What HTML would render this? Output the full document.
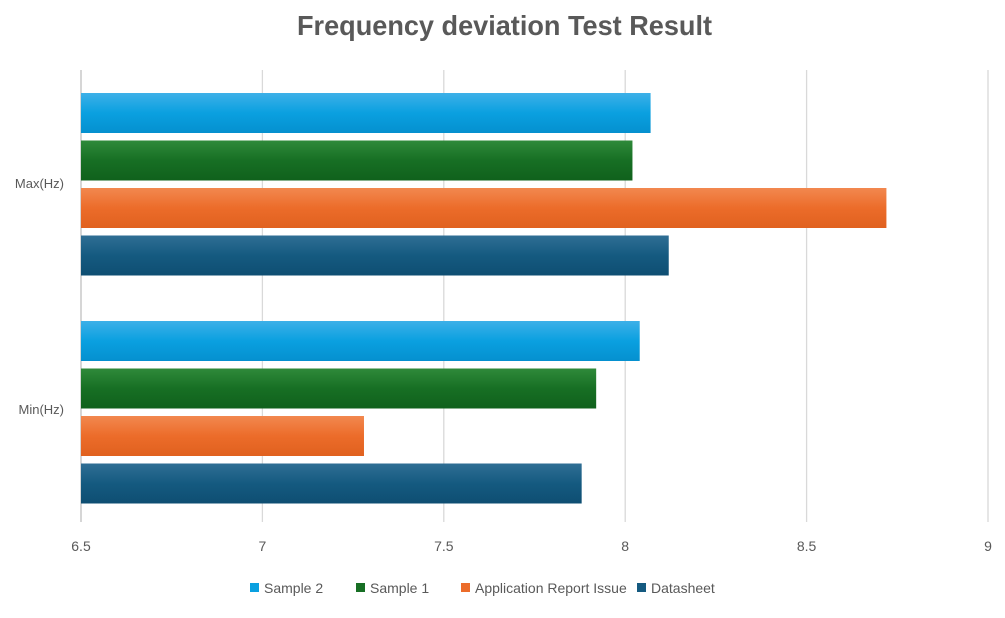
<!DOCTYPE html>
<html><head><meta charset="utf-8"><style>
body{margin:0;background:#fff;font-family:"Liberation Sans",sans-serif}
svg text{font-family:"Liberation Sans",sans-serif}
</style></head><body>
<svg id="chart" width="1005" height="613">
<defs>
<linearGradient id="g0" x1="0" y1="0" x2="0" y2="1"><stop offset="0" stop-color="#3db0e8"/><stop offset="0.5" stop-color="#0aa0e0"/><stop offset="1" stop-color="#0590cf"/></linearGradient>
<linearGradient id="g1" x1="0" y1="0" x2="0" y2="1"><stop offset="0" stop-color="#2f8a3a"/><stop offset="0.5" stop-color="#176f24"/><stop offset="1" stop-color="#10611c"/></linearGradient>
<linearGradient id="g2" x1="0" y1="0" x2="0" y2="1"><stop offset="0" stop-color="#f2884f"/><stop offset="0.5" stop-color="#ec6c2a"/><stop offset="1" stop-color="#e0611f"/></linearGradient>
<linearGradient id="g3" x1="0" y1="0" x2="0" y2="1"><stop offset="0" stop-color="#2f6e94"/><stop offset="0.5" stop-color="#155a80"/><stop offset="1" stop-color="#0e4e72"/></linearGradient>
</defs>
<text x="297" y="35" textLength="415" lengthAdjust="spacingAndGlyphs" font-size="28" font-weight="bold" fill="#595959">Frequency deviation Test Result</text>
<g id="grid"></g><g id="bars"></g><g id="labels"></g><g id="legend"></g>
</svg>
<script>
const categories=["Max(Hz)","Min(Hz)"];
const seriesNames=["Sample 2","Sample 1","Application Report Issue","Datasheet"];
const sample2=[8.07,8.04];
const sample1=[8.02,7.92];
const appReport=[8.72,7.28];
const datasheet=[8.12,7.88];
const ticks=[6.5,7,7.5,8,8.5,9];
const tickLabels=["6.5","7","7.5","8","8.5","9"];
const series=[sample2,sample1,appReport,datasheet];
const NS="http://www.w3.org/2000/svg";
const x0=81,x1=988,yTop=70,yBot=522;
const xs=v=>x0+(v-6.5)/(9-6.5)*(x1-x0);
const bandH=(yBot-yTop)/categories.length;
function mk(t,a,p){const e=document.createElementNS(NS,t);for(const k in a)e.setAttribute(k,a[k]);p.appendChild(e);return e;}
const grid=document.getElementById('grid'),bars=document.getElementById('bars'),labels=document.getElementById('labels'),legend=document.getElementById('legend');
ticks.forEach((t,i)=>{
 const l=mk('line',{x1:xs(t),x2:xs(t),y1:yTop,y2:yBot,stroke:i==0?'#bfbfbf':'#d9d9d9','stroke-width':1.3},grid);
 
 
 const tx=mk('text',{x:xs(t),y:551,'text-anchor':'middle','font-size':14,fill:'#595959'},labels);
 tx.textContent=tickLabels[i];
 
 
});
categories.forEach((c,ci)=>{
 const top=yTop+ci*bandH;
 const tx=mk('text',{x:64,y:top+bandH/2+5,'text-anchor':'end','font-size':13,fill:'#595959'},labels);
 tx.textContent=c;
 
 
 series.forEach((s,si)=>{
  const y=top+23+ci*2+si*47.5;
  const r=mk('rect',{x:x0,y:y,width:xs(s[ci])-x0,height:40,fill:'url(#g'+si+')'},bars);
  
  
 });
});
const lx=[250,356,461,637];
seriesNames.forEach((n,i)=>{
 const r=mk('rect',{x:lx[i],y:583,width:9,height:9,fill:['#0aa0e0','#176f24','#ec6c2a','#155a80'][i]},legend);
 
 
 const t=mk('text',{x:lx[i]+14,y:593,'font-size':14,fill:'#595959'},legend);
 t.textContent=n;
 
 
});
</script>
</body></html>
